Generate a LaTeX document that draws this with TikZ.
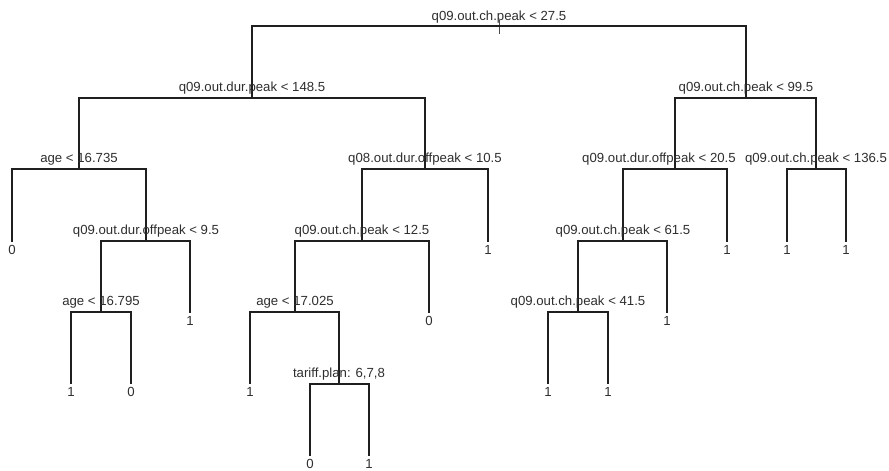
\documentclass[tikz,border=0pt]{standalone}
\usepackage{fontspec}
\setmainfont{Liberation Sans}
\begin{document}
\begin{tikzpicture}[x=1pt,y=-1pt,
  edge/.style={draw=black!88,line width=1.3pt},
  lbl/.style={anchor=base,inner sep=0pt,text=black!82,font=\fontsize{13.2}{15}\selectfont},
  leaf/.style={anchor=north,inner sep=0pt,text=black!82,font=\fontsize{13.2}{15}\selectfont}]
\useasboundingbox (0,0) rectangle (889,471);
% internal node positions (at their split bars)
\coordinate (r) at (499,26);
\coordinate (n1) at (252,98);
\coordinate (n2) at (746,98);
\coordinate (n11) at (79,169);
\coordinate (n12) at (425,169);
\coordinate (n112) at (146,241);
\coordinate (n1121) at (101,312);
\coordinate (n121) at (362,241);
\coordinate (n1211) at (295,312);
\coordinate (n12112) at (339,384);
\coordinate (n21) at (675,169);
\coordinate (n22) at (816,169);
\coordinate (n211) at (623,241);
\coordinate (n2111) at (578,312);
% leaf line ends
\coordinate (l111) at (12,242);
\coordinate (l1122) at (190,313);
\coordinate (l11211) at (71,384);
\coordinate (l11212) at (131,384);
\coordinate (l122) at (488,242);
\coordinate (l1212) at (429,313);
\coordinate (l12111) at (250,384);
\coordinate (l121121) at (310,456);
\coordinate (l121122) at (369,456);
\coordinate (l212) at (727,242);
\coordinate (l221) at (787,242);
\coordinate (l222) at (846,242);
\coordinate (l2112) at (667,313);
\coordinate (l21111) at (548,384);
\coordinate (l21112) at (608,384);
% root tick
\coordinate (rt) at (499,20);
\coordinate (rb) at (499,34);
\draw[draw=black!70,line width=0.6pt] (rt) -- (rb);
% edges
\path[edge] (r) -| (n1); \path[edge] (r) -| (n2);
\path[edge] (n1) -| (n11); \path[edge] (n1) -| (n12);
\path[edge] (n11) -| (l111); \path[edge] (n11) -| (n112);
\path[edge] (n112) -| (n1121); \path[edge] (n112) -| (l1122);
\path[edge] (n1121) -| (l11211); \path[edge] (n1121) -| (l11212);
\path[edge] (n12) -| (n121); \path[edge] (n12) -| (l122);
\path[edge] (n121) -| (n1211); \path[edge] (n121) -| (l1212);
\path[edge] (n1211) -| (l12111); \path[edge] (n1211) -| (n12112);
\path[edge] (n12112) -| (l121121); \path[edge] (n12112) -| (l121122);
\path[edge] (n2) -| (n21); \path[edge] (n2) -| (n22);
\path[edge] (n21) -| (n211); \path[edge] (n21) -| (l212);
\path[edge] (n22) -| (l221); \path[edge] (n22) -| (l222);
\path[edge] (n211) -| (n2111); \path[edge] (n211) -| (l2112);
\path[edge] (n2111) -| (l21111); \path[edge] (n2111) -| (l21112);
% split labels
\node[lbl] (tr) at ([yshift=6pt]r) {q09.out.ch.peak < 27.5};
\node[lbl] (tn1) at ([yshift=7pt]n1) {q09.out.dur.peak < 148.5};
\node[lbl] (tn2) at ([yshift=7pt]n2) {q09.out.ch.peak < 99.5};
\node[lbl] (tn11) at ([yshift=7pt]n11) {age < 16.735};
\node[lbl] (tn12) at ([yshift=7pt]n12) {q08.out.dur.offpeak < 10.5};
\node[lbl] (tn112) at ([yshift=7pt]n112) {q09.out.dur.offpeak < 9.5};
\node[lbl] (tn1121) at ([yshift=7pt]n1121) {age < 16.795};
\node[lbl] (tn121) at ([yshift=7pt]n121) {q09.out.ch.peak < 12.5};
\node[lbl] (tn1211) at ([yshift=7pt]n1211) {age < 17.025};
\node[lbl] (tn12112) at ([yshift=7pt]n12112) {tariff.plan: 6,7,8};
\node[lbl] (tn21) at ([xshift=-16pt,yshift=7pt]n21) {q09.out.dur.offpeak < 20.5};
\node[lbl] (tn22) at ([yshift=7pt]n22) {q09.out.ch.peak < 136.5};
\node[lbl] (tn211) at ([yshift=7pt]n211) {q09.out.ch.peak < 61.5};
\node[lbl] (tn2111) at ([yshift=7pt]n2111) {q09.out.ch.peak < 41.5};
% leaf labels
\node[leaf] (tl111) at ([yshift=-3pt]l111) {0};
\node[leaf] (tl1122) at ([yshift=-3pt]l1122) {1};
\node[leaf] (tl11211) at ([yshift=-3pt]l11211) {1};
\node[leaf] (tl11212) at ([yshift=-3pt]l11212) {0};
\node[leaf] (tl122) at ([yshift=-3pt]l122) {1};
\node[leaf] (tl1212) at ([yshift=-3pt]l1212) {0};
\node[leaf] (tl12111) at ([yshift=-3pt]l12111) {1};
\node[leaf] (tl121121) at ([yshift=-3pt]l121121) {0};
\node[leaf] (tl121122) at ([yshift=-3pt]l121122) {1};
\node[leaf] (tl212) at ([yshift=-3pt]l212) {1};
\node[leaf] (tl221) at ([yshift=-3pt]l221) {1};
\node[leaf] (tl222) at ([yshift=-3pt]l222) {1};
\node[leaf] (tl2112) at ([yshift=-3pt]l2112) {1};
\node[leaf] (tl21111) at ([yshift=-3pt]l21111) {1};
\node[leaf] (tl21112) at ([yshift=-3pt]l21112) {1};
\end{tikzpicture}
\end{document}
